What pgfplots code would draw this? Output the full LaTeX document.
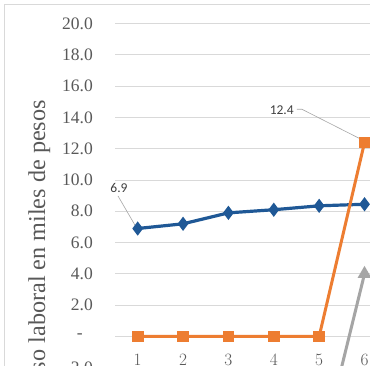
\documentclass[border=0pt]{standalone}
\usepackage{pgfplots}
\pgfplotsset{compat=1.18}
\usepackage{fontspec}
\setmainfont{Liberation Serif}
\newfontfamily\carlito{Carlito}
\definecolor{sblue}{RGB}{31,88,150}
\definecolor{sorange}{RGB}{237,125,49}
\definecolor{sgray}{RGB}{165,165,165}
\definecolor{gridc}{RGB}{217,217,217}
\definecolor{txt}{RGB}{89,89,89}
\definecolor{lbl}{RGB}{64,64,64}
\begin{document}
\begin{tikzpicture}[x=1pt,y=1pt]
\useasboundingbox (0,0) rectangle (370,366);
\clip (0,0) rectangle (370,366);
\fill[white] (0,0) rectangle (370,366);
\draw[gridc, line width=1pt] (4,-20) -- (4,361) -- (400,361);
\begin{axis}[
  at={(115pt,342.5pt)}, anchor=north west,
  scale only axis, width=272.2pt, height=438.2pt,
  xmin=0.5, xmax=6.5, ymin=-8, ymax=20, clip=false,
  axis line style={draw=none}, tick style={draw=none},
  ymajorgrids, grid style={gridc, line width=0.8pt},
  xtick={1,2,3,4,5,6},
  ytick={-8,-6,-4,-2,0,2,4,6,8,10,12,14,16,18,20},
  yticklabels={-8.0,-6.0,-4.0,-2.0,{-\kern10pt},2.0,4.0,6.0,8.0,10.0,12.0,14.0,16.0,18.0,20.0},
  yticklabel style={anchor=east, inner sep=0pt, xshift=-22pt, font=\fontsize{17.5}{20}\selectfont, text=txt},
  xticklabel style={anchor=north, inner sep=0pt, yshift=107.7pt, font=\fontsize{17.5}{20}\selectfont, text=txt},
]
\addplot[sblue, line width=3.2pt, mark=diamond*, mark size=4.5pt, mark options={solid}] coordinates {
  (1,6.9) (2,7.2) (3,7.9) (4,8.1) (5,8.35) (6,8.45)};
\addplot[sorange, line width=3pt, mark=square*, mark size=4.4pt, mark options={solid}] coordinates {
  (1,0) (2,0) (3,0) (4,0) (5,0) (6,12.4)};
\addplot[sgray, line width=3pt, mark=triangle*, mark size=5pt, mark options={solid}] coordinates {
  (5,-7.8) (6,4.0)};
\draw[gray!70, line width=0.6pt] (axis cs:0.566,8.98) -- (axis cs:0.963,7.0);
\draw[gray!70, line width=0.6pt] (axis cs:4.51,14.52) -- (axis cs:4.62,14.52) -- (axis cs:5.96,12.55);
\node[font=\carlito\fontsize{13.5}{15}\selectfont, text=lbl] at (axis cs:0.588,9.49) {6.9};
\node[font=\carlito\fontsize{13.5}{15}\selectfont, text=lbl] at (axis cs:4.175,14.43) {12.4};
\end{axis}
\node[rotate=90, anchor=base east, inner sep=0pt, font=\fontsize{24.2}{26}\selectfont, text=txt] at (45,266) {Ingreso laboral en miles de pesos};
\end{tikzpicture}
\end{document}
